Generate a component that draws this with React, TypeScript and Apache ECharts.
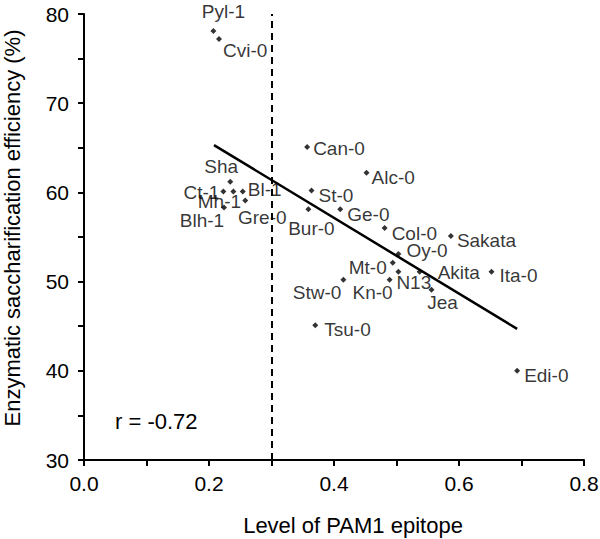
import React, { useEffect, useRef } from "react";
import * as echarts from "echarts";

// ---- data ----
const names = [
  "Pyl-1", "Cvi-0", "Can-0", "Alc-0", "St-0", "Bur-0", "Ge-0", "Col-0", "Sakata",
  "Oy-0", "Mt-0", "N13", "Akita", "Jea", "Ita-0", "Stw-0", "Kn-0", "Tsu-0", "Edi-0",
  "Sha", "Ct-1", "Mh-1", "Bl-1", "Gre-0", "Blh-1",
];
const pam1Level = [
  0.207, 0.216, 0.357, 0.452, 0.364, 0.359, 0.41, 0.481, 0.587,
  0.503, 0.494, 0.503, 0.537, 0.556, 0.652, 0.415, 0.489, 0.37, 0.693,
  0.234, 0.223, 0.239, 0.254, 0.258, 0.224,
];
const saccharification = [
  78.1, 77.2, 65.1, 62.2, 60.2, 58.1, 58.1, 56.0, 55.1,
  53.1, 52.1, 51.1, 51.1, 49.1, 51.1, 50.2, 50.2, 45.1, 40.0,
  61.2, 60.1, 60.1, 60.1, 59.1, 58.3,
];
const regressionX = [0.208, 0.693];
const regressionY = [65.3, 44.7];
const thresholdX = 0.3;
const correlationText = "r = -0.72";
const xTitle = "Level of PAM1 epitope";
const yTitle = "Enzymatic saccharification efficiency (%)";
const xTicks = { min: 0, max: 0.8, interval: 0.1 };
const yTicks = { min: 30, max: 80, interval: 5 };

// ---- label layout (anchor alignment and offset from dot, px) ----
const labelLayout: Record<string, [string, number, number]> = {
  "Pyl-1": ["center", 10, -19],
  "Cvi-0": ["left", 4, 12],
  "Can-0": ["left", 6, 2],
  "Alc-0": ["left", 5, 5],
  "St-0": ["left", 7, 5],
  "Ge-0": ["left", 7, 5],
  "Bur-0": ["center", 3, 19],
  "Col-0": ["left", 7, 5],
  "Sakata": ["left", 6, 4],
  "Oy-0": ["left", 8, -3],
  "Mt-0": ["right", -6, 5],
  "N13": ["left", -2, 11],
  "Akita": ["left", 18, 1],
  "Jea": ["center", 11, 13],
  "Ita-0": ["left", 8, 4],
  "Stw-0": ["right", -2, 13],
  "Kn-0": ["right", 3, 13],
  "Tsu-0": ["left", 9, 4],
  "Edi-0": ["left", 7, 5],
  "Sha": ["center", -9, -15],
  "Ct-1": ["right", -4, 1],
  "Mh-1": ["center", -14, 10],
  "Bl-1": ["left", 5, -2],
  "Gre-0": ["center", 17, 17],
  "Blh-1": ["center", -22, 13],
};

const FONT = "'Liberation Sans', Arial, Helvetica, sans-serif";
const INK = "#000";

export default function App() {
  const ref = useRef<HTMLDivElement>(null);
  useEffect(() => {
    if (!ref.current) return;
    const chart = echarts.init(ref.current, undefined, { renderer: "svg" });
    const points = names.map((n, i) => {
      const [align, dx, dy] = labelLayout[n] || ["left", 6, 0];
      return {
        name: n,
        value: [pam1Level[i], saccharification[i]],
        label: {
          show: true,
          position: "inside",
          align,
          verticalAlign: "middle",
          offset: [dx, dy],
          formatter: n,
        },
      };
    });
    chart.setOption({
      animation: false,
      backgroundColor: "#ffffff",
      textStyle: { fontFamily: FONT },
      grid: { left: 84, right: 16, top: 14, bottom: 79, containLabel: false, outerBoundsMode: "none" },
      xAxis: {
        type: "value",
        min: xTicks.min,
        max: xTicks.max,
        interval: xTicks.interval,
        axisLine: { show: true, lineStyle: { color: INK, width: 2 } },
        axisTick: { show: true, length: 6, inside: false, lineStyle: { color: INK, width: 2 } },
        axisLabel: {
          fontSize: 21,
          color: INK,
          margin: 13,
          fontFamily: FONT,
          formatter: (v: number) => (Math.round(v * 10) % 2 === 0 ? v.toFixed(1) : ""),
        },
        splitLine: { show: false },
      },
      yAxis: {
        type: "value",
        min: yTicks.min,
        max: yTicks.max,
        interval: yTicks.interval,
        axisLine: { show: true, lineStyle: { color: INK, width: 2 } },
        axisTick: { show: true, length: 6, inside: false, lineStyle: { color: INK, width: 2 } },
        axisLabel: {
          fontSize: 21,
          color: INK,
          margin: 15,
          fontFamily: FONT,
          formatter: (v: number) => (Math.round(v) % 10 === 0 ? String(Math.round(v)) : ""),
        },
        splitLine: { show: false },
      },
      series: [
        {
          type: "scatter",
          symbol: "diamond",
          symbolSize: 6,
          itemStyle: { color: INK },
          label: { fontSize: 19, color: INK, fontFamily: FONT, textBorderWidth: 0 },
          data: points,
          markLine: {
            silent: true,
            symbol: "none",
            label: { show: false },
            lineStyle: { color: INK, width: 2, type: [7, 5] },
            data: [{ xAxis: thresholdX }],
          },
          z: 3,
        },
        {
          type: "line",
          data: regressionX.map((x, i) => [x, regressionY[i]]),
          symbol: "none",
          lineStyle: { color: INK, width: 2.5 },
          z: 2,
        },
      ],
      graphic: [
        {
          type: "text",
          left: 115,
          top: 410,
          style: { text: correlationText, fontSize: 22, fill: INK, fontFamily: FONT },
        },
        {
          type: "text",
          x: 353,
          y: 525,
          style: {
            text: xTitle, fontSize: 22, fill: INK, fontFamily: FONT,
            align: "center", verticalAlign: "middle",
          },
        },
        {
          type: "text",
          x: 12,
          y: 228,
          rotation: Math.PI / 2,
          style: {
            text: yTitle, fontSize: 22, fill: INK, fontFamily: FONT,
            align: "center", verticalAlign: "middle",
          },
        },
      ],
    });
    return () => chart.dispose();
  }, []);
  return (
    <div
      ref={ref}
      style={{ position: "absolute", left: 0, top: 0, width: 600, height: 539 }}
    />
  );
}
